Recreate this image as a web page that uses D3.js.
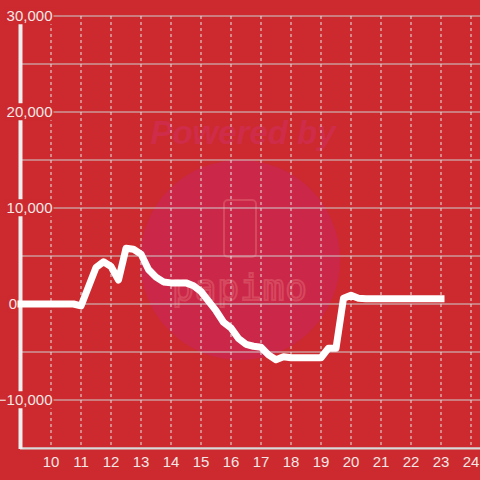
<!DOCTYPE html>
<html><head><meta charset="utf-8">
<script src="https://cdn.jsdelivr.net/npm/d3@7"></script>
<style>html,body{margin:0;padding:0;background:#cc2a2e;}svg{display:block;}</style>
</head><body>
<script>
const hours = [9,9.25,9.5,9.75,10,10.25,10.5,10.75,11,11.25,11.5,11.75,12,12.25,12.5,12.75,13,13.25,13.5,13.75,14,14.25,14.5,14.75,15,15.25,15.5,15.75,16,16.25,16.5,16.75,17,17.25,17.5,17.75,18,18.25,18.5,18.75,19,19.25,19.5,19.75,20,20.25,20.5,20.75,21,21.25,21.5,21.75,22,22.25,22.5,22.75,23];
const values = [0,0,0,0,0,0,0,0,-200,1800,3800,4400,3900,2500,5800,5700,5200,3600,2800,2300,2200,2200,2200,1900,1300,300,-700,-1900,-2500,-3600,-4200,-4400,-4500,-5300,-5800,-5500,-5600,-5600,-5600,-5600,-5600,-4600,-4600,600,900,600,550,550,550,550,550,550,550,550,550,550,550];
const xTicks = [10,11,12,13,14,15,16,17,18,19,20,21,22,23,24];
const yTicks = [-15000,-10000,-5000,0,5000,10000,15000,20000,25000,30000];
const yLabelTicks = [-10000,0,10000,20000,30000];

const W = 480, H = 480, bg = "#cc2a2e";
const svg = d3.select("body").append("svg").attr("width", W).attr("height", H);
svg.append("rect").attr("width", W).attr("height", H).attr("fill", bg);

const x = d3.scaleLinear().domain([9, 24.3]).range([21, 480]);
const y = d3.scaleLinear().domain([-15000, 30000]).range([448, 16]);

// watermark
const wm = svg.append("g");
wm.append("circle").attr("cx", 240).attr("cy", 260).attr("r", 100).attr("fill", "#cb2749");
wm.append("text").attr("x", 243).attr("y", 144).attr("text-anchor", "middle")
  .attr("font-family", "Liberation Sans, Arial, sans-serif").attr("font-size", 33)
  .attr("font-weight", "bold").attr("font-style", "italic").attr("fill", "#cf2c4a").text("Powered by");
wm.append("rect").attr("x", 224).attr("y", 200).attr("width", 32).attr("height", 57).attr("rx", 4)
  .attr("fill", "none").attr("stroke", "#d6485e").attr("stroke-width", 2);
wm.append("text").attr("x", 240).attr("y", 300).attr("text-anchor", "middle")
  .attr("font-family", "DejaVu Sans Mono, monospace").attr("font-size", 36)
  .attr("fill", "none").attr("stroke", "#d6485e").attr("stroke-width", 2).attr("letter-spacing", 1).text("papimo");

// grid
svg.append("g").selectAll("line").data(yTicks).join("line")
  .attr("x1", 21).attr("x2", W).attr("y1", d => y(d)).attr("y2", d => y(d))
  .attr("stroke", "#cfcfcf").attr("stroke-width", 1);
svg.append("g").selectAll("line").data(xTicks).join("line")
  .attr("x1", d => x(d)).attr("x2", d => x(d)).attr("y1", 16).attr("y2", 448)
  .attr("stroke", "#e6e6e6").attr("stroke-width", 1).attr("stroke-dasharray", "3,3");

// axes lines
svg.append("line").attr("x1", 20).attr("x2", W).attr("y1", 448.5).attr("y2", 448.5).attr("stroke", "#d9d9d9").attr("stroke-width", 2);
svg.append("line").attr("x1", 20.5).attr("x2", 20.5).attr("y1", 16).attr("y2", 449).attr("stroke", "#eeeeee").attr("stroke-width", 4);

// y labels with tight bg
const fmt = d3.format(",");
const yl = svg.append("g").selectAll("g").data(yLabelTicks).join("g");
const yr = yl.append("rect").attr("fill", bg);
const yt = yl.append("text").attr("x", d => d === 0 ? 17 : 52.5).attr("y", d => y(d)).attr("dy", "0.35em").attr("text-anchor", "end")
  .attr("font-family", "Liberation Sans, Arial, sans-serif").attr("font-size", 15).attr("fill", "#f3e6e6")
  .text(d => fmt(d));
yt.each(function() {
  const b = this.getBBox();
  d3.select(this.parentNode).select("rect")
    .attr("x", b.x - 1).attr("y", b.y).attr("width", b.width + 2).attr("height", b.height);
});

// line
const line = d3.line().x((d, i) => x(hours[i])).y(d => y(d));
svg.append("path").datum(values).attr("d", line).attr("fill", "none")
  .attr("stroke", "#ffffff").attr("stroke-width", 7).attr("stroke-linejoin", "round").attr("stroke-linecap", "square");

// x labels
svg.append("g").selectAll("text").data(xTicks).join("text")
  .attr("x", d => x(d)).attr("y", 467).attr("text-anchor", "middle")
  .attr("font-family", "Liberation Sans, Arial, sans-serif").attr("font-size", 15).attr("fill", "#f3e6e6")
  .text(d => d);
</script>
</body></html>
